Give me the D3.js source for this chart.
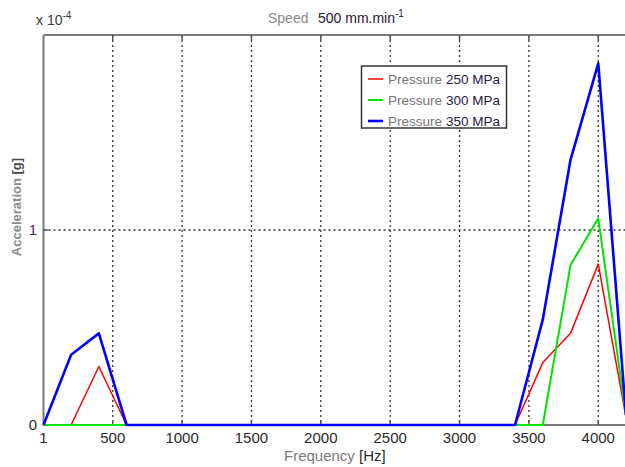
<!DOCTYPE html>
<html><head><meta charset="utf-8">
<script src="https://cdn.jsdelivr.net/npm/d3@7/dist/d3.min.js"></script>
<style>body{margin:0;background:#fff}svg{display:block}text{font-family:"Liberation Sans Narrow","Liberation Sans",Arial,sans-serif}</style>
</head><body><svg id="c" width="625" height="467"></svg>
<script>
const freqs = [1,200,400,600,800,1000,1200,1400,1600,1800,2000,2200,2400,2600,2800,3000,3200,3400,3600,3800,4000,4200];
const p250 = [0,0,0.30,0,0,0,0,0,0,0,0,0,0,0,0,0,0,0,0.32,0.47,0.825,0.04];
const p300 = [0,0,0,0,0,0,0,0,0,0,0,0,0,0,0,0,0,0,0,0.82,1.06,0.05];
const p350 = [0,0.36,0.47,0,0,0,0,0,0,0,0,0,0,0,0,0,0,0,0.54,1.36,1.855,0.05];
const xTicks = [1,500,1000,1500,2000,2500,3000,3500,4000];
const yTicks = [0,1];
const seriesNames = ["250 MPa","300 MPa","350 MPa"];
const seriesColors = ["#ff0000","#00e600","#0000ff"];
const seriesWidths = [1.5,2,2.6];

const svg = d3.select("#c");
const L=43.5, T=35, R=626, B=425;
const x = d3.scaleLinear().domain([1,4200]).range([L,R]);
const y = d3.scaleLinear().domain([0,2]).range([B,T]);

// grid
const g = svg.append("g");
g.selectAll(".vg").data(xTicks.slice(1)).enter().append("line")
 .attr("x1",d=>x(d)).attr("x2",d=>x(d)).attr("y1",T).attr("y2",B)
 .attr("stroke","#333").attr("stroke-width",1.3).attr("stroke-dasharray","2,3");
g.append("line").attr("x1",L).attr("x2",R).attr("y1",y(1)).attr("y2",y(1))
 .attr("stroke","#333").attr("stroke-width",1.3).attr("stroke-dasharray","2,3");

// frame
svg.append("line").attr("x1",L).attr("x2",R).attr("y1",T).attr("y2",T).attr("stroke","#7a7a7a").attr("stroke-width",1.8);
svg.append("line").attr("x1",L).attr("x2",L).attr("y1",T).attr("y2",B).attr("stroke","#7a7a7a").attr("stroke-width",2);
svg.append("line").attr("x1",L).attr("x2",R).attr("y1",B).attr("y2",B).attr("stroke","#7a7a7a").attr("stroke-width",1.8);
svg.selectAll(".tt").data(xTicks.slice(1)).enter().append("line")
 .attr("x1",d=>x(d)).attr("x2",d=>x(d)).attr("y1",T).attr("y2",T+5).attr("stroke","#555").attr("stroke-width",1.5);
svg.selectAll(".bt").data(xTicks.slice(1)).enter().append("line")
 .attr("x1",d=>x(d)).attr("x2",d=>x(d)).attr("y1",B).attr("y2",B-5).attr("stroke","#555").attr("stroke-width",1.5);
svg.append("line").attr("x1",L).attr("x2",L+5).attr("y1",y(1)).attr("y2",y(1)).attr("stroke","#555").attr("stroke-width",1.5);

// lines
const line = d3.line().x((d,i)=>x(freqs[i])).y(d=>y(d));
[p250,p300,p350].forEach((s,k)=>{
  svg.append("path").datum(s).attr("d",line).attr("fill","none")
   .attr("stroke",seriesColors[k]).attr("stroke-width",seriesWidths[k]).attr("stroke-linejoin","round");
});

// tick labels
svg.selectAll(".xl").data(xTicks).enter().append("text")
 .attr("x",d=>x(d)).attr("y",443).attr("text-anchor","middle")
 .attr("font-size",15).attr("fill","#2a2a2a").text(d=>d);
svg.selectAll(".yl").data(yTicks).enter().append("text")
 .attr("x",37).attr("y",d=>y(d)+5).attr("text-anchor","end")
 .attr("font-size",15).attr("fill",d=>d===1?"#4a2a60":"#2a2a2a").text(d=>d);

// exponent
const ex = svg.append("text").attr("x",36).attr("y",25).attr("font-size",14).attr("fill","#3a3a3a");
ex.append("tspan").text("x 10");
ex.append("tspan").attr("dy",-6).attr("font-size",10).text("-4");

// title
const tt = svg.append("text").attr("y",23).attr("font-size",14);
tt.append("tspan").attr("x",268).attr("fill","#8a8a8a").text("Speed");
tt.append("tspan").attr("x",318).attr("fill","#2a2030").text("500 mm.min");
tt.append("tspan").attr("fill","#2a2030").attr("dy",-6).attr("font-size",10).text("-1");

// axis labels
const xl = svg.append("text").attr("y",461).attr("font-size",15);
xl.append("tspan").attr("x",284).attr("fill","#7a7a7a").text("Frequency");
xl.append("tspan").attr("x",359).attr("fill","#2a2a2a").text("[Hz]");
const yl = svg.append("text").attr("transform","translate(21,207) rotate(-90)").attr("text-anchor","middle").attr("font-size",13).attr("font-weight","bold");
yl.append("tspan").attr("fill","#8a8a8a").text("Acceleration ");
yl.append("tspan").attr("fill","#4a4a4a").text("[g]");

// legend
const lg = svg.append("g");
lg.append("rect").attr("x",361.5).attr("y",66).attr("width",145).attr("height",62)
 .attr("fill","#fff").attr("stroke","#333").attr("stroke-width",1.5);
seriesNames.forEach((n,k)=>{
  const yy = 79 + k*21;
  lg.append("line").attr("x1",368).attr("x2",383).attr("y1",yy).attr("y2",yy)
   .attr("stroke",seriesColors[k]).attr("stroke-width",seriesWidths[k]);
  const t = lg.append("text").attr("y",yy+5).attr("font-size",13.5);
  t.append("tspan").attr("x",388).attr("fill","#777").text("Pressure");
  t.append("tspan").attr("x",446).attr("fill","#2a2040").text(n);
});
</script></body></html>
